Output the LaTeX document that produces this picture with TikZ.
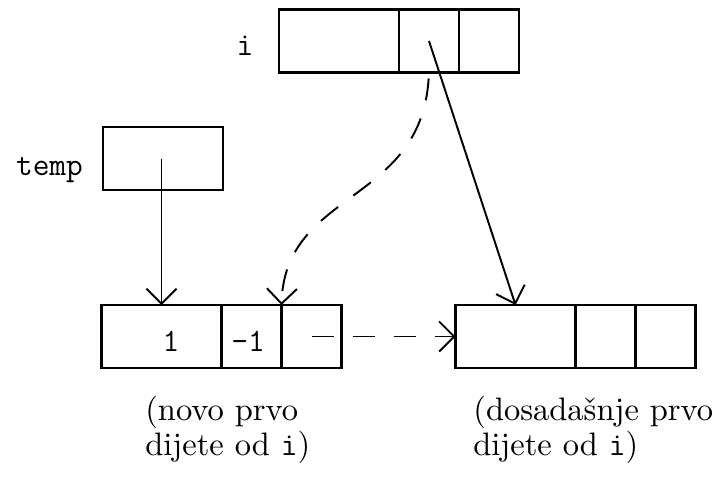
\documentclass[tikz,border=0pt]{standalone}
\usepackage{fontspec}
\setmainfont{lmroman10-regular.otf}
\usepackage{tikz}
\usetikzlibrary{positioning, arrows.meta}

\begin{document}
\begin{tikzpicture}[
    every node/.style={font=\fontsize{18.5}{20}\selectfont},
    cell/.style={rectangle, draw=black, line width=1.6pt, minimum height=1.26cm,
                 inner sep=0pt, outer sep=0pt},
    wide/.style={cell, minimum width=2.4cm},
    narrow/.style={cell, minimum width=1.2cm},
    arrow/.style={-{Straight Barb[length=3mm, width=6mm]}, line width=1.1pt},
    darrow/.style={arrow, dash pattern=on 0.44cm off 0.38cm},
    caption/.style={align=left, anchor=north west, inner sep=0pt}
]
    \useasboundingbox (0, 0) rectangle (14.46, -9.52);

    % === pointer i ===
    \node[wide] (i1) at (6.78, -0.82) {};
    \node[narrow, right=0pt of i1] (i2) {};
    \node[narrow, right=0pt of i2] (i3) {};
    \node (ilbl) at (4.9, -0.92) {\texttt{i}};

    % === pointer temp ===
    \node[wide] (tmp) at (3.26, -3.17) {};
    \node (tmplbl) at (0.99, -3.40) {\texttt{temp}};

    % === new first child ===
    \node[wide] (n1) at (3.23, -6.73) {};
    \node[narrow, right=0pt of n1] (n2) {};
    \node[narrow, right=0pt of n2] (n3) {};
    \node (one) at (3.42, -6.82) {\texttt{1}};
    \node (minusone) at (4.96, -6.82) {\texttt{-1}};

    % === old first child ===
    \node[wide] (d1) at (10.31, -6.73) {};
    \node[narrow, right=0pt of d1] (d2) {};
    \node[narrow, right=0pt of d2] (d3) {};

    % === links ===
    \draw[arrow] (n1.north |- tmp.center) -- (n1.north);
    \draw[arrow] (i2.center) -- (d1.north);
    \draw[darrow] (n3.center) -- (d1.west);
    \draw[darrow, shorten <=0.12cm] (i2.south) .. controls +(-0.16, -2.64) and +(0.06, 2.3) .. (n3.north west);

    % === captions ===
    \node[caption] (ncap) at (2.9, -7.91) {(novo prvo\\dijete od \texttt{i})};
    \node[caption] (dcap) at (9.46, -7.91) {(dosadašnje prvo\\dijete od \texttt{i})};

\end{tikzpicture}
\end{document}
